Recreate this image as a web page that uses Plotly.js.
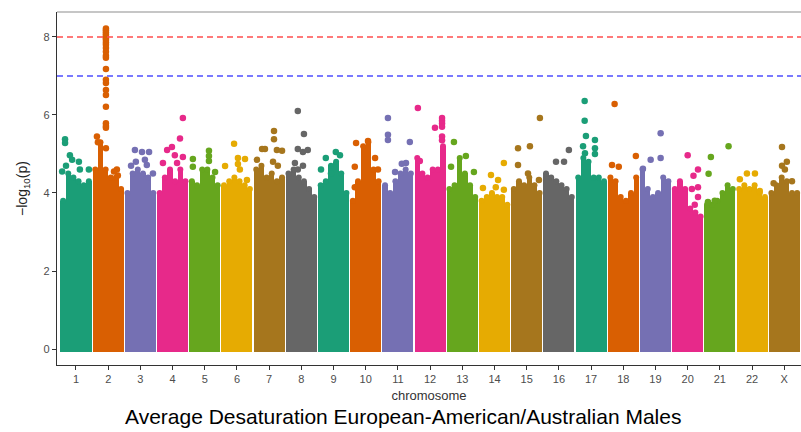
<!DOCTYPE html>
<html>
<head>
<meta charset="utf-8">
<script src="https://cdn.plot.ly/plotly-3.0.1.min.js"></script>
<style>html,body{margin:0;padding:0;background:#fff;}#chart{width:801px;height:432px;}</style>
</head>
<body>
<div id="chart"></div>
<script>
// Chromosome labels
const chromosomes = ["1","2","3","4","5","6","7","8","9","10","11","12","13","14","15","16","17","18","19","20","21","22","X"];
// Dark2 palette cycled over chromosomes
const palette = ["#1B9E77","#D95F02","#7570B3","#E7298A","#66A61E","#E6AB02","#A6761D","#666666"];
// Dense body of -log10(p) per chromosome: approximate top of the solid mass in 6 slices (left->right)
const bodyTop = [
  [3.8,4.5,4.4,4.3,4.2,4.3],
  [4.6,5.3,4.6,4.4,4.4,4.1],
  [4.0,4.5,4.6,4.5,4.4,4.0],
  [4.0,4.4,4.6,4.3,4.6,4.3],
  [4.3,4.2,4.6,4.6,4.4,4.2],
  [4.2,4.3,4.4,4.3,4.2,4.1],
  [4.6,4.7,4.4,4.5,4.3,4.4],
  [4.5,4.6,4.4,4.3,4.1,3.9],
  [4.2,4.3,4.7,4.8,4.5,4.0],
  [3.8,4.3,5.2,5.3,4.6,4.3],
  [4.2,4.0,4.3,4.5,4.6,4.5],
  [4.9,4.5,4.4,4.6,4.6,5.2],
  [4.1,4.2,4.9,4.5,4.2,3.9],
  [3.8,3.9,4.0,3.9,3.9,3.7],
  [4.1,4.3,4.2,4.4,4.2,4.0],
  [4.5,4.4,4.3,4.2,4.1,3.9],
  [4.4,4.9,4.8,4.4,4.4,4.3],
  [4.4,4.3,3.9,3.8,4.0,4.4],
  [4.6,4.1,3.9,4.0,4.4,4.3],
  [4.1,4.3,4.1,3.6,3.5,3.4],
  [3.7,3.7,3.8,4.0,4.2,4.1],
  [4.1,4.2,4.1,4.2,4.0,3.9],
  [4.0,4.2,4.4,4.3,4.0,4.0]
];
// Individual SNPs above the dense mass, one list per chromosome:
// position within the chromosome (offset from its centre, in chromosome widths)
const peakPos = [
  [-0.34,-0.34,-0.19,-0.12,0.09,0.12,0.40,-0.31,-0.43],
  [-0.07,-0.07,-0.07,-0.07,-0.07,-0.07,-0.07,-0.07,-0.07,-0.07,-0.07,-0.07,-0.07,-0.07,-0.07,-0.07,-0.07,-0.07,-0.07,-0.07,-0.07,-0.07,-0.07,-0.35,-0.32,0.27,0.30,0.18],
  [-0.17,0.05,0.27,-0.14,0.14,0.20,-0.29,0.39],
  [0.32,0.23,-0.02,-0.17,0.07,0.32,-0.30,0.14],
  [-0.37,0.13,0.13,0.13,-0.37,0.32],
  [-0.09,0.03,0.25,-0.37,0.03,0.09,0.31],
  [0.15,0.15,-0.22,-0.13,0.24,0.40,-0.38,0.12,0.27],
  [-0.11,0.08,-0.11,0.05,0.20,-0.20,0.05,-0.11],
  [-0.24,0.07,0.20,-0.39,-0.08],
  [-0.30,0.07,-0.34,-0.34,0.29,0.38],
  [-0.31,-0.31,-0.31,0.37,0.25,0.12,-0.09],
  [-0.38,0.37,0.37,0.37,0.37,0.15,-0.32,0.37,0.37],
  [-0.26,-0.35,0.36,0.11],
  [0.29,-0.11,0.11,-0.36,0.04,0.29],
  [0.41,-0.27,0.10,-0.27,0.04,0.38],
  [0.31,-0.09,0.16],
  [-0.20,-0.20,-0.16,0.12,-0.25,0.12,0.12,-0.19],
  [-0.27,-0.35,-0.14,0.39],
  [0.16,-0.15,0.16,-0.39],
  [0.00,0.32,0.18,0.13,0.32,0.32,0.22],
  [0.27,-0.28,-0.35,-0.37,-0.16],
  [-0.16,0.09,-0.38,0.24],
  [-0.07,0.08,-0.07,0.02,-0.33,0.24]
];
// -log10(p) of those SNPs
const peakVal = [
  [5.38,5.28,4.97,4.85,4.80,4.60,4.60,4.70,4.55],
  [8.22,8.17,8.12,8.07,8.02,7.97,7.92,7.86,7.80,7.72,7.62,7.52,7.47,7.18,6.90,6.82,6.64,6.51,6.21,5.79,5.72,5.67,5.15,5.45,5.30,4.60,4.45,4.55],
  [5.10,5.05,5.05,4.80,4.85,4.72,4.70,4.50],
  [5.92,5.40,5.18,5.10,4.97,4.92,4.77,4.77],
  [4.87,5.08,4.95,4.82,4.67,4.54],
  [5.26,4.90,4.87,4.69,4.74,4.60,4.33],
  [5.59,5.38,5.13,5.13,5.10,5.08,4.85,4.80,4.70],
  [6.10,5.51,5.13,5.05,5.10,4.77,4.70,4.60],
  [4.90,5.05,4.97,4.60,4.50],
  [5.28,5.33,4.67,4.15,4.90,4.60],
  [5.92,5.49,5.36,5.31,4.77,4.75,4.54],
  [6.18,5.92,5.85,5.78,5.70,5.67,4.82,5.45,5.35],
  [5.31,4.67,4.54,4.95],
  [4.77,4.46,4.33,4.13,4.15,4.08],
  [5.92,5.15,5.20,4.72,4.50,4.33],
  [5.10,4.80,4.80],
  [6.36,5.85,5.46,5.36,5.20,5.15,5.00,5.02],
  [6.28,4.72,4.67,4.95],
  [5.53,4.85,4.90,4.62],
  [4.97,4.60,4.44,4.10,4.15,3.90,3.70],
  [5.20,4.92,4.49,3.77,3.80],
  [4.50,4.50,4.35,4.05],
  [5.18,4.80,4.70,4.60,4.25,4.30]
];
const thresholds = [8, 7];
const thresholdColors = ["#FF4D4D", "#4D4DFF"];
const yTicks = [0, 2, 4, 6, 8];

const traces = [];
const nSlices = 6;
const colWidth = 0.96;
const sliceW = colWidth / nSlices;
chromosomes.forEach((c, i) => {
  const idx = i + 1;
  const col = palette[i % 8];
  const xs = [], ys = [], tops = [];
  bodyTop[i].forEach((h, k) => {
    xs.push(idx - colWidth / 2 + sliceW * (k + 0.5));
    ys.push(h + 0.08);
    tops.push(h);
  });
  traces.push({
    type: "bar", x: xs, y: ys, base: -0.08, width: sliceW * 1.02,
    marker: {color: col, line: {width: 0}},
    hoverinfo: "skip", showlegend: false
  });
  // rounded caps on the body slices
  traces.push({
    type: "scatter", mode: "markers", x: xs, y: tops,
    marker: {color: col, size: 6, line: {width: 0}},
    hoverinfo: "skip", showlegend: false
  });
  traces.push({
    type: "scatter", mode: "markers",
    x: peakPos[i].map(p => idx + p), y: peakVal[i],
    marker: {color: col, size: 6.5, line: {width: 0}},
    hoverinfo: "skip", showlegend: false, cliponaxis: false
  });
});

const shapes = thresholds.map((t, i) => ({
  type: "line", xref: "paper", x0: 0, x1: 1, yref: "y", y0: t, y1: t,
  line: {color: thresholdColors[i], width: 1.5, dash: "6px,4px"}
}));
shapes.push({type: "line", xref: "paper", x0: 0, x1: 1, yref: "paper", y0: 1, y1: 1,
  line: {color: "#b3b3b3", width: 1.5}});

const layout = {
  width: 801, height: 432,
  margin: {l: 57, r: 0, t: 12, b: 67},
  paper_bgcolor: "#fff", plot_bgcolor: "#fff",
  font: {family: "Liberation Sans, Arial, sans-serif", color: "#333"},
  barmode: "overlay", bargap: 0,
  xaxis: {
    range: [0.41, 23.52], tickvals: chromosomes.map((c, i) => i + 1), ticktext: chromosomes,
    showgrid: false, zeroline: false, showline: true, linecolor: "#333", linewidth: 1.2,
    ticks: "outside", ticklen: 4, tickcolor: "#333", tickfont: {size: 11, color: "#4d4d4d"},
    title: {text: "chromosome", font: {size: 13, color: "#333"}, standoff: 6}
  },
  yaxis: {
    range: [-0.41, 8.64], tickvals: yTicks,
    showgrid: false, zeroline: false, showline: true, linecolor: "#333", linewidth: 1.2,
    ticks: "outside", ticklen: 4, tickcolor: "#333", tickfont: {size: 11, color: "#4d4d4d"},
    title: {text: "\u2212log<sub>10</sub>(p)", font: {size: 14, color: "#222"}, standoff: 12}
  },
  shapes: shapes,
  annotations: [{
    text: "Average Desaturation European-American/Australian Males",
    xref: "paper", yref: "paper", x: 0.465, y: -0.1445, xanchor: "center", yanchor: "middle",
    showarrow: false, font: {size: 21, color: "#000"}
  }]
};

Plotly.newPlot("chart", traces, layout, {displayModeBar: false, staticPlot: true});
</script>
</body>
</html>
